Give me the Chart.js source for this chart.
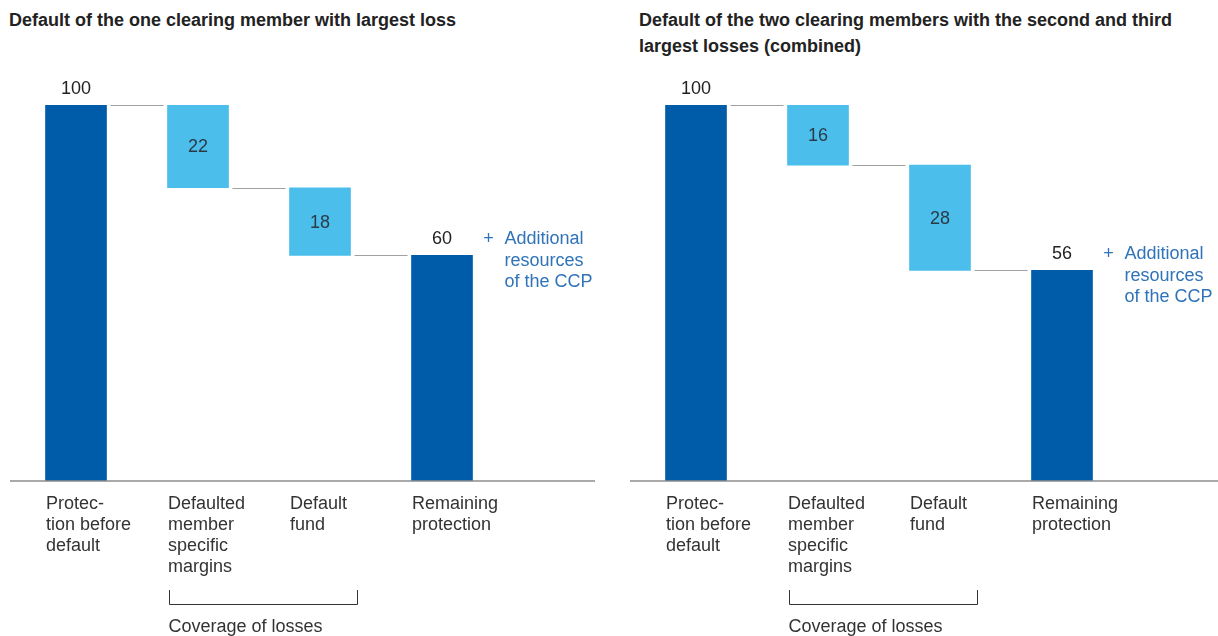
<!DOCTYPE html>
<html>
<head>
<meta charset="utf-8">
<script src="https://cdn.jsdelivr.net/npm/chart.js@4.4.1/dist/chart.umd.min.js"></script>
<style>
  body { margin: 0; background: #fff; width: 1218px; height: 636px; position: relative; overflow: hidden; }
  .title { position: absolute; font: bold 18px "Liberation Sans", Arial, sans-serif; line-height: 26px; color: #222; }
  .panel { position: absolute; top: 0; width: 600px; height: 636px; }
</style>
</head>
<body>
<div class="title" style="left:9px;top:7px">Default of the one clearing member with largest loss</div>
<div class="title" style="left:639px;top:7px">Default of the two clearing members with the second and third<br>largest losses (combined)</div>
<div class="panel" style="left:0"><canvas id="left" width="600" height="636"></canvas></div>
<div class="panel" style="left:620px"><canvas id="right" width="600" height="636"></canvas></div>

<script>
// categories and values
const categories = [
    ['Protec-', 'tion before', 'default'],
    ['Defaulted', 'member', 'specific', 'margins'],
    ['Default', 'fund'],
    ['Remaining', 'protection']
];
const leftStart = 100;
const leftLosses = [22, 18];
const leftRemaining = 60;
const rightStart = 100;
const rightLosses = [16, 28];
const rightRemaining = 56;
const noteLines = ['Additional', 'resources', 'of the CCP'];
const bracketLabel = 'Coverage of losses';

const DARK = '#005ca9';
const LIGHT = '#4bbeeb';
const NOTE = '#2f73b8';
const TEXT = '#333';
const FONT = '"Liberation Sans", Arial, sans-serif';

// floating bars: [bottom, top] for each step of the waterfall
const buildRanges = (start, losses, remaining) => {
    const ranges = [[0, start]];
    let level = start;
    losses.forEach(loss => {
        ranges.push([level - loss, level]);
        level -= loss;
    });
    ranges.push([0, remaining]);
    return ranges;
};

const waterfallDecor = {
    id: 'waterfallDecor',
    afterDatasetsDraw(chart, args, opts) {
        const { ctx, chartArea } = chart;
        const yScale = chart.scales.y;
        const bars = chart.getDatasetMeta(0).data;
        const ranges = chart.data.datasets[0].data;
        const values = opts.values;

        ctx.save();

        // base line
        ctx.strokeStyle = '#8c8c8c';
        ctx.lineWidth = 1.5;
        ctx.beginPath();
        ctx.moveTo(10, chartArea.bottom);
        ctx.lineTo(opts.lineEnd, chartArea.bottom);
        ctx.stroke();

        // connectors between steps
        ctx.strokeStyle = '#a0a0a0';
        ctx.lineWidth = 1.2;
        for (let i = 0; i < bars.length - 1; i++) {
            const level = i === 0 ? ranges[0][1] : ranges[i][0];
            const y = Math.round(yScale.getPixelForValue(level)) + 0.5;
            const a = bars[i], b = bars[i + 1];
            ctx.beginPath();
            ctx.moveTo(a.x + a.width / 2 + 4, y);
            ctx.lineTo(b.x - b.width / 2 - 4, y);
            ctx.stroke();
        }

        // value labels
        ctx.textAlign = 'center';
        ctx.textBaseline = 'middle';
        bars.forEach((bar, i) => {
            const last = i === 0 || i === bars.length - 1;
            ctx.fillStyle = last ? '#222' : '#2b3a47';
            ctx.font = '18px ' + FONT;
            const y = last ? bar.y - 16 : (bar.y + bar.base) / 2 + 1;
            ctx.fillText(String(values[i]), bar.x, y);
        });

        // note beside remaining protection
        const lastBar = bars[bars.length - 1];
        const nx = lastBar.x + lastBar.width / 2;
        const ny = lastBar.y - 16;
        ctx.fillStyle = NOTE;
        ctx.font = '18px ' + FONT;
        ctx.textAlign = 'center';
        ctx.fillText('+', nx + 16, ny);
        ctx.textAlign = 'left';
        noteLines.forEach((line, k) => ctx.fillText(line, nx + 32, ny + k * 21.5));

        // bracket under the two loss categories
        const b1 = bars[1], b2 = bars[2];
        const x1 = Math.round(b1.x - b1.width / 2) + 1.5;
        const x2 = Math.round(b2.x + b2.width / 2) + 6.5;
        const yTop = chartArea.bottom + 109;
        const yBot = chartArea.bottom + 123.5;
        ctx.strokeStyle = '#333';
        ctx.lineWidth = 1;
        ctx.beginPath();
        ctx.moveTo(x1, yTop);
        ctx.lineTo(x1, yBot);
        ctx.lineTo(x2, yBot);
        ctx.lineTo(x2, yTop);
        ctx.stroke();
        ctx.fillStyle = TEXT;
        ctx.textAlign = 'left';
        ctx.fillText(bracketLabel, x1 - 1, chartArea.bottom + 146);

        ctx.restore();
    }
};

const makeChart = (id, start, losses, remaining, lineEnd) => {
    const ranges = buildRanges(start, losses, remaining);
    const values = [start, ...losses, remaining];
    const colors = ranges.map((r, i) => (i === 0 || i === ranges.length - 1) ? DARK : LIGHT);
    return new Chart(document.getElementById(id), {
        type: 'bar',
        data: {
            labels: categories,
            datasets: [{ data: ranges, backgroundColor: colors, borderWidth: 0, barThickness: 61 }]
        },
        options: {
            responsive: false,
            animation: false,
            devicePixelRatio: 1,
            layout: { padding: { top: 105, left: 15, right: 97, bottom: 0 } },
            plugins: {
                legend: { display: false },
                tooltip: { enabled: false },
                waterfallDecor: { values, lineEnd }
            },
            scales: {
                x: {
                    grid: { display: false, drawTicks: false },
                    border: { display: false },
                    afterFit: s => { s.height = 155; },
                    ticks: {
                        align: 'start',
                        labelOffset: -30,
                        padding: 12,
                        maxRotation: 0,
                        autoSkip: false,
                        color: TEXT,
                        font: { family: FONT, size: 18, lineHeight: 1.18 }
                    }
                },
                y: { display: false, min: 0, max: 100 }
            }
        },
        plugins: [waterfallDecor]
    });
};

makeChart('left', leftStart, leftLosses, leftRemaining, 595);
makeChart('right', rightStart, rightLosses, rightRemaining, 598);
</script>
</body>
</html>
